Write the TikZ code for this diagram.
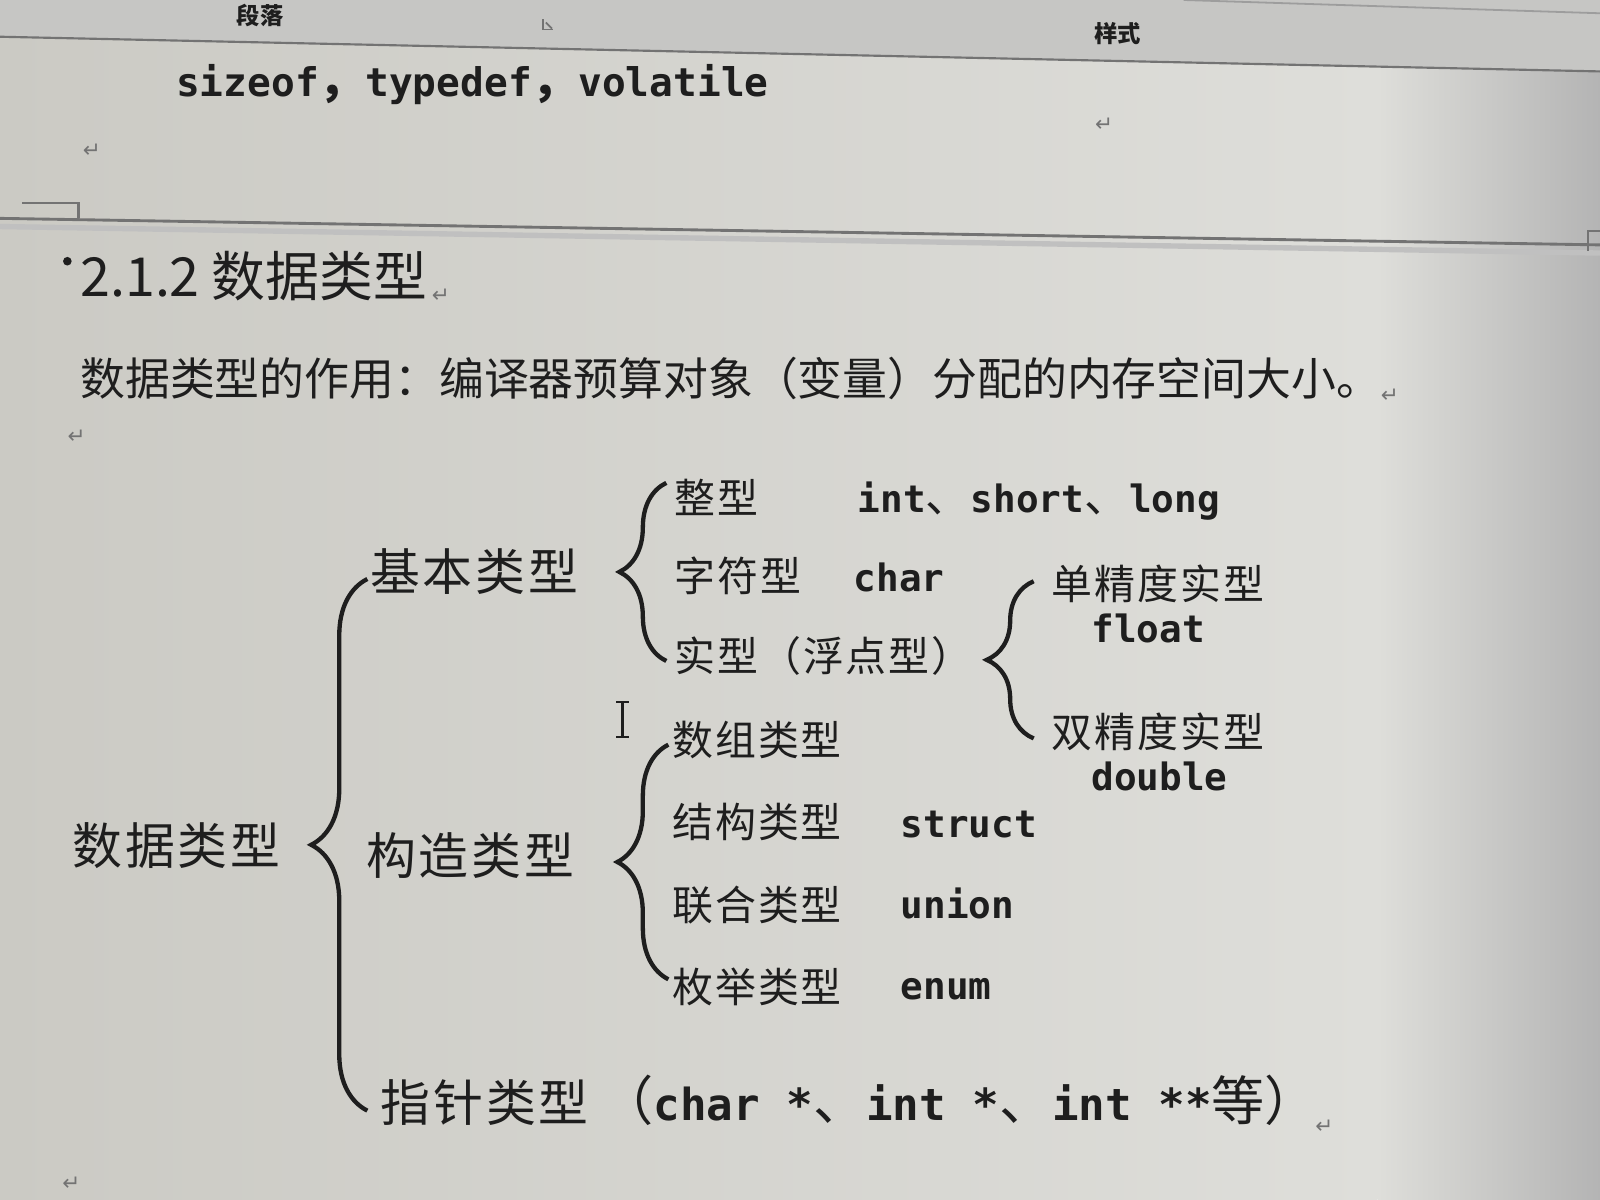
\documentclass[tikz,border=0pt]{standalone}
\usepackage{fontspec}
\usepackage{xcolor}
\usepackage{tikz}
\usetikzlibrary{decorations.pathreplacing}

\setmainfont{Noto Sans CJK SC}
\newfontfamily\cjk{Noto Sans CJK SC}
\newfontfamily\cjkone[LetterSpace=6]{Noto Sans CJK SC}
\newfontfamily\cjktwo[LetterSpace=5]{Noto Sans CJK SC}
\newfontfamily\mono{DejaVu Sans Mono}
\newfontfamily\sym{DejaVu Sans}
\newcommand\fsz[1]{\fontsize{#1}{#1}\selectfont}
\newcommand\zhs[1]{{\cjk\mdseries\fsz{12.5pt}#1}}
\newcommand\zhb[1]{{\cjk\mdseries\fsz{14.8pt}#1}}

\definecolor{ink}{RGB}{30,30,30}
\definecolor{bgl}{RGB}{203,202,196}
\definecolor{bgm}{RGB}{222,222,218}
\definecolor{bgr}{RGB}{180,180,180}
\definecolor{rib}{RGB}{198,198,196}
\definecolor{rulec}{RGB}{115,115,115}

\begin{document}
\begin{tikzpicture}[x={(0.01cm,0)},y={(0,-0.01cm)},
        lvlone/.style={anchor=base west,inner sep=0,text=ink,font=\cjkone\fsz{13.9pt}},
        lvltwo/.style={anchor=base west,inner sep=0,text=ink,font=\cjktwo\fsz{11.4pt}},
        codetxt/.style={anchor=base west,inner sep=0,text=ink,font=\mono\bfseries\fsz{10.5pt}},
        retmark/.style={inner sep=0,text=rulec,font=\sym\fsz{6pt}},
        brc/.style={decorate,decoration={brace,amplitude=#1},line width=1.2pt,draw=ink}]
        \useasboundingbox (0,0) rectangle (1568,1176);

        %background
        \shade[left color=bgl,right color=bgm] (0,0) rectangle (1350,1176);
        \shade[left color=bgm,right color=bgr] (1350,0) rectangle (1568,1176);

        %ribbon
        \fill[rib] (0,0)--(1568,0)--(1568,70)--(0,36)--cycle;
        \draw[rulec,line width=0.6pt] (0,36)--(1568,70);
        \draw[rulec!70,line width=0.5pt] (1160,0)--(1568,13);
        \node[inner sep=0,text=ink,font=\cjk\bfseries\fsz{6.5pt}] (duanluo) at(255,15) {段落};
        \node[inner sep=0,text=ink,font=\cjk\bfseries\fsz{6.5pt}] (yangshi) at(1095,33) {样式};
        \draw[rulec,line width=0.5pt] (532,19)--(532,29)--(542,29);
        \draw[rulec,line width=0.5pt] (535,22)--(541,28);

        %previous paragraph
        \node[anchor=base west,inner sep=0,text=ink,font=\mono\bfseries\fsz{11pt}] (kw) at(172,95)
            {sizeof{\cjk\fsz{13pt}，}typedef{\cjk\fsz{13pt}，}volatile};
        \node[retmark] (r1) at(1082,122) {↵};
        \node[retmark] (r2) at(90,148) {↵};

        %section rule
        \draw[rulec,line width=0.8pt] (0,214)--(1568,240);
        \draw[rulec!45,line width=1.5pt] (0,222)--(1568,248);
        \draw[rulec,line width=0.6pt] (22,199)--(77,199)--(77,214);
        \draw[rulec,line width=0.6pt] (1568,226)--(1556,226)--(1556,246);

        %heading
        \fill[ink] (66,256) circle (1.2pt);
        \node[anchor=base west,inner sep=0,text=ink,font=\cjk\fsz{15pt}] (title) at(78,291) {2.1.2 数据类型};
        \node[retmark] (r3) at(432,290) {↵};
        \node[anchor=base west,inner sep=0,text=ink,font=\cjk\fsz{12.5pt}] (intro) at(78,388)
            {数据类型的作用：编译器预算对象（变量）分配的内存空间大小。};
        \node[retmark] (r4) at(1362,388) {↵};
        \node[retmark] (r5) at(75,428) {↵};

        %level one
        \node[lvlone] (shuju) at(70,847) {数据类型};
        \node[lvlone] (jiben) at(362,579) {基本类型};
        \node[lvlone] (gouzao) at(358,857) {构造类型};
        \node[lvlone] (zhizhen) at(372,1099) {指针类型};
        \node[codetxt,font=\mono\bfseries\fsz{12.3pt}] (ptr) at(588,1098)
            {\zhb{（}char *\zhb{、}int *\zhb{、}int **\zhb{等）}};
        \node[retmark] (r6) at(1298,1104) {↵};
        \node[retmark] (r7) at(70,1160) {↵};
        \draw[brc=0.55cm] ([shift={(-12,8)}]zhizhen.west)--([shift={(-2,7)}]jiben.west);

        %basic types
        \node[lvltwo] (zheng) at(660,503) {整型};
        \node[codetxt] (zhengc) at(840,502) {int\zhs{、}short\zhs{、}long};
        \node[lvltwo] (zifu) at(660,580) {字符型};
        \node[codetxt] (zifuc) at(836,580) {char};
        \node[lvltwo] (shi) at(660,658) {实型（浮点型）};
        \draw[brc=0.46cm] ([shift={(-7,5)}]shi.west)--([shift={(-7,-14)}]zheng.west);

        %float
        \node[lvltwo] (dan) at(1030,588) {单精度实型};
        \node[codetxt] (danc) at(1069,630) {float};
        \node[lvltwo] (shuang) at(1030,733) {双精度实型};
        \node[codetxt] (shuangc) at(1069,775) {double};
        \draw[brc=0.46cm] ([shift={(-17,6)}]shuang.west)--([shift={(-17,-3)}]dan.west);

        %derived types
        \node[lvltwo] (shuzu) at(658,740) {数组类型};
        \node[lvltwo] (jiegou) at(658,821) {结构类型};
        \node[codetxt] (jiegouc) at(882,821) {struct};
        \node[lvltwo] (lianhe) at(658,902) {联合类型};
        \node[codetxt] (lianhec) at(882,900) {union};
        \node[lvltwo] (meiju) at(658,982) {枚举类型};
        \node[codetxt] (meijuc) at(882,980) {enum};
        \draw[brc=0.5cm] ([shift={(-3,-7)}]meiju.west)--([shift={(-3,5)}]shuzu.west);

        %cursor
        \draw[ink,line width=0.6pt] (610,688)--(610,722) (604,688)--(616,688) (604,722)--(616,722);
    \end{tikzpicture}
\end{document}
